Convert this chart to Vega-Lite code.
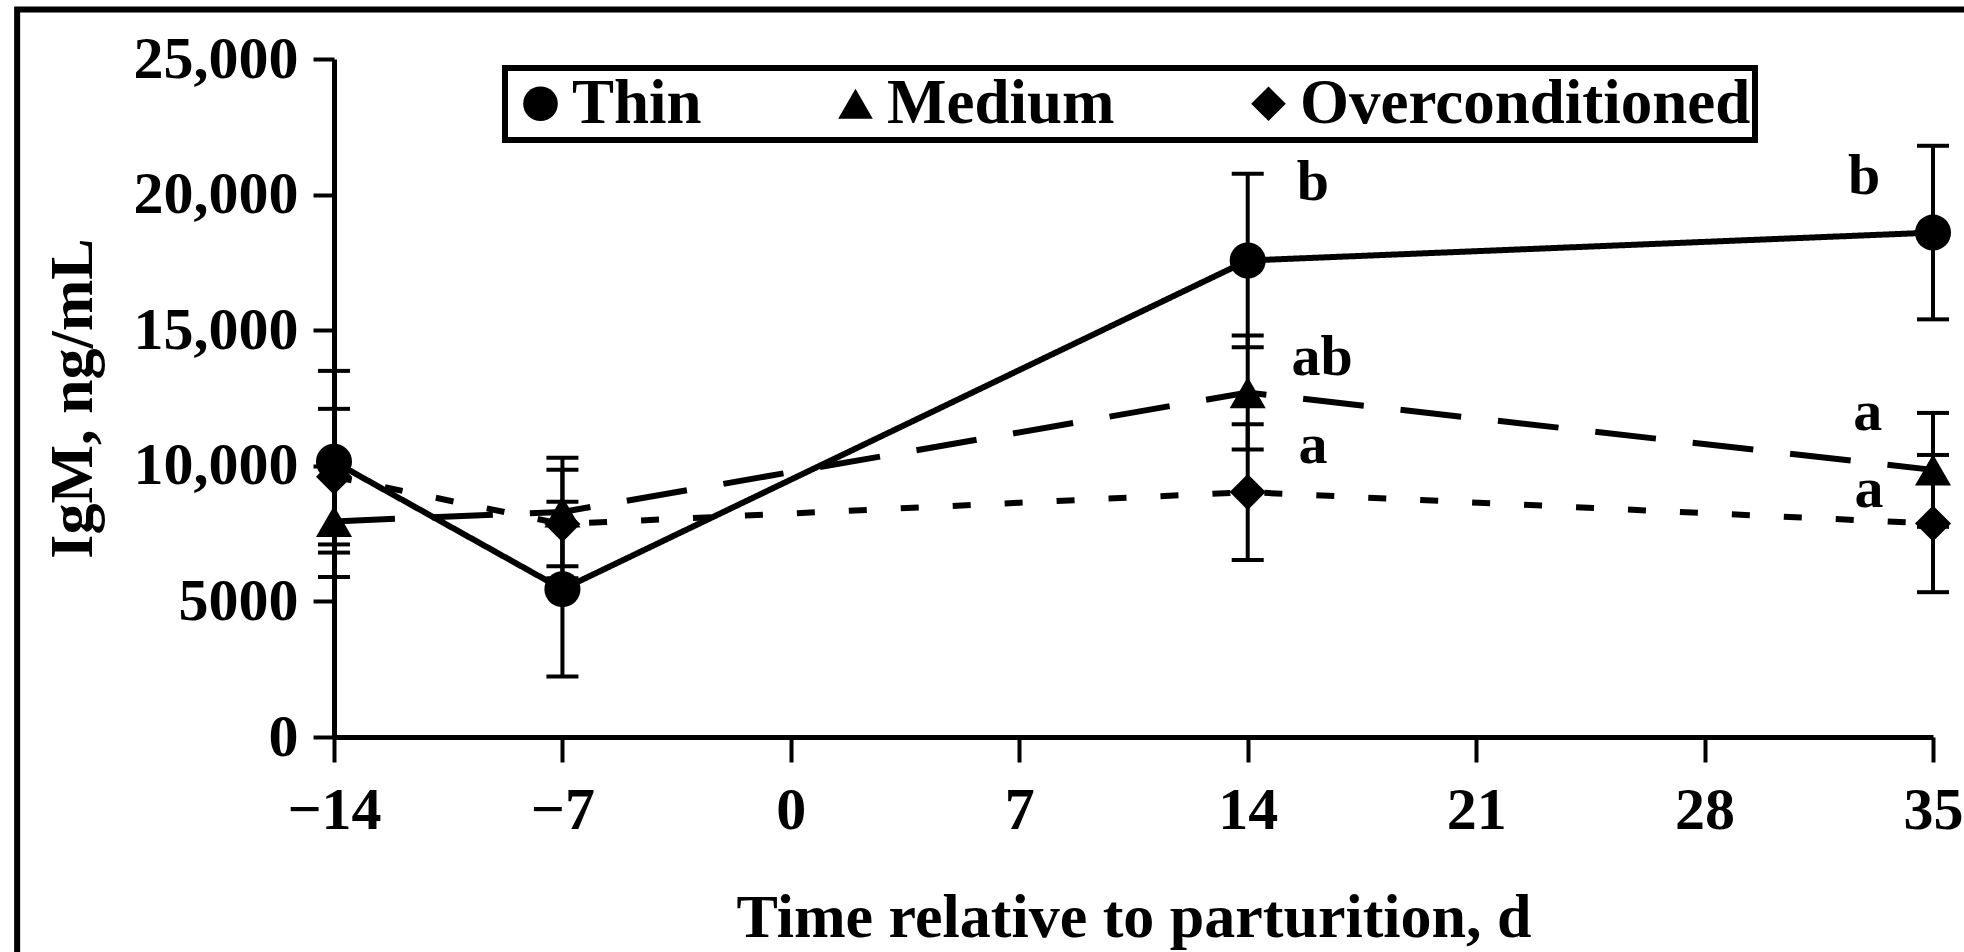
{
  "$schema": "https://vega.github.io/schema/vega-lite/v6.json",
  "width": 1599,
  "height": 678,
  "autosize": {"type": "none"},
  "padding": {"left": 334, "top": 59, "right": 31, "bottom": 215},
  "background": "white",
  "config": {
    "view": {"stroke": null},
    "font": "Liberation Serif",
    "legend": {"strokeWidth": 6},
    "axis": {
      "domainColor": "black",
      "domainWidth": 5,
      "tickColor": "black",
      "tickWidth": 4,
      "grid": false,
      "labelFont": "Liberation Serif",
      "labelFontWeight": "bold",
      "labelColor": "black",
      "labelFontSize": 60,
      "titleFont": "Liberation Serif",
      "titleFontWeight": "bold",
      "titleColor": "black",
      "titleFontSize": 62,
      "labelFlush": false,
      "labelOverlap": false
    }
  },
  "datasets": {
    "series": [
      {"group": "Thin", "day": -14, "mean": 10150, "se": 3350},
      {"group": "Thin", "day": -7, "mean": 5450, "se": 3220},
      {"group": "Thin", "day": 14, "mean": 17570, "se": 3200},
      {"group": "Thin", "day": 35, "mean": 18600, "se": 3200},
      {"group": "Medium", "day": -14, "mean": 7950, "se": 2050},
      {"group": "Medium", "day": -7, "mean": 8300, "se": 2000},
      {"group": "Medium", "day": 14, "mean": 12700, "se": 2100},
      {"group": "Medium", "day": 35, "mean": 9850, "se": 2100},
      {"group": "Overconditioned", "day": -14, "mean": 9600, "se": 2500},
      {"group": "Overconditioned", "day": -7, "mean": 7850, "se": 2000},
      {"group": "Overconditioned", "day": 14, "mean": 9030, "se": 2500},
      {"group": "Overconditioned", "day": 35, "mean": 7870, "se": 2530}
    ],
    "labels": [
      {"day": 16.0, "value": 19800, "text": "b"},
      {"day": 16.28, "value": 13340, "text": "ab"},
      {"day": 16.0, "value": 10090, "text": "a"},
      {"day": 32.89, "value": 20020, "text": "b"},
      {"day": 33.0, "value": 11310, "text": "a"},
      {"day": 33.04, "value": 8470, "text": "a"}
    ]
  },
  "layer": [
    {
      "data": {"values": [{}]},
      "mark": {"type": "rect", "filled": false, "color": "black", "strokeWidth": 6, "clip": false},
      "encoding": {
        "x": {"datum": -23.71, "type": "quantitative", "title": "Time relative to parturition, d", "scale": {"domain": [-14, 35], "nice": false, "zero": false}},
        "x2": {"datum": 36.6},
        "y": {"datum": 26826, "type": "quantitative", "title": "IgM, ng/mL", "scale": {"domain": [0, 25000], "nice": false}},
        "y2": {"datum": -9000}
      }
    },
    {
      "data": {"name": "series"},
      "mark": {
        "type": "errorbar",
        "size": 32,
        "thickness": 4,
        "color": "black",
        "opacity": 1,
        "ticks": {"color": "black", "opacity": 1},
        "rule": {"color": "black", "opacity": 1}
      },
      "encoding": {
        "x": {"field": "day", "type": "quantitative", "title": "Time relative to parturition, d"},
        "y": {"field": "mean", "type": "quantitative", "title": "IgM, ng/mL"},
        "yError": {"field": "se"}
      }
    },
    {
      "data": {"name": "series"},
      "mark": {"type": "line", "color": "black", "strokeWidth": 6, "strokeCap": "butt"},
      "encoding": {
        "x": {"field": "day", "type": "quantitative", "title": "Time relative to parturition, d"},
        "y": {"field": "mean", "type": "quantitative", "title": "IgM, ng/mL"},
        "strokeDash": {
          "field": "group", "type": "nominal",
          "scale": {"domain": ["Thin", "Medium", "Overconditioned"], "range": [[1, 0], [61, 37], [18, 34]]},
          "legend": {
            "orient": "none",
            "legendX": 171,
            "legendY": 9,
            "direction": "horizontal",
            "title": null,
            "strokeColor": "black",
            "padding": 4,
            "symbolSize": 1200,
            "symbolFillColor": "black",
            "symbolStrokeColor": "black",
            "symbolStrokeWidth": 0,
            "symbolOpacity": 1,
            "labelFont": "Liberation Serif",
            "labelFontWeight": "bold",
            "labelFontSize": 63,
            "labelColor": "black",
            "labelLimit": 800,
            "labelOffset": 0,
            "columnPadding": 122
          }
        }
      }
    },
    {
      "data": {"name": "series"},
      "mark": {"type": "point", "filled": true, "color": "black", "opacity": 1, "size": 1300},
      "encoding": {
        "x": {
          "field": "day", "type": "quantitative",
          "title": "Time relative to parturition, d",
          "scale": {"domain": [-14, 35], "nice": false, "zero": false},
          "axis": {
            "values": [-14, -7, 0, 7, 14, 21, 28, 35],
            "tickSize": 25,
            "labelPadding": 19,
            "titlePadding": 47
          }
        },
        "y": {
          "field": "mean", "type": "quantitative",
          "title": "IgM, ng/mL",
          "scale": {"domain": [0, 25000], "nice": false},
          "axis": {
            "values": [0, 5000, 10000, 15000, 20000, 25000],
            "labelExpr": "datum.value >= 10000 ? format(datum.value, ',') : format(datum.value, 'd')",
            "tickSize": 21,
            "labelPadding": 15,
            "titlePadding": 30
          }
        },
        "shape": {
          "field": "group", "type": "nominal",
          "scale": {"domain": ["Thin", "Medium", "Overconditioned"], "range": ["circle", "triangle-up", "diamond"]},
          "legend": {
            "orient": "none",
            "legendX": 171,
            "legendY": 9,
            "direction": "horizontal",
            "title": null,
            "strokeColor": "black",
            "padding": 4,
            "symbolSize": 1200,
            "symbolFillColor": "black",
            "symbolStrokeColor": "black",
            "symbolStrokeWidth": 0,
            "symbolOpacity": 1,
            "labelFont": "Liberation Serif",
            "labelFontWeight": "bold",
            "labelFontSize": 63,
            "labelColor": "black",
            "labelLimit": 800,
            "labelOffset": 0,
            "columnPadding": 122
          }
        }
      }
    },
    {
      "data": {"name": "labels"},
      "mark": {"type": "text", "font": "Liberation Serif", "fontWeight": "bold", "fontSize": 58, "color": "black", "align": "center", "baseline": "alphabetic"},
      "encoding": {
        "x": {"field": "day", "type": "quantitative"},
        "y": {"field": "value", "type": "quantitative"},
        "text": {"field": "text"}
      }
    }
  ]
}
